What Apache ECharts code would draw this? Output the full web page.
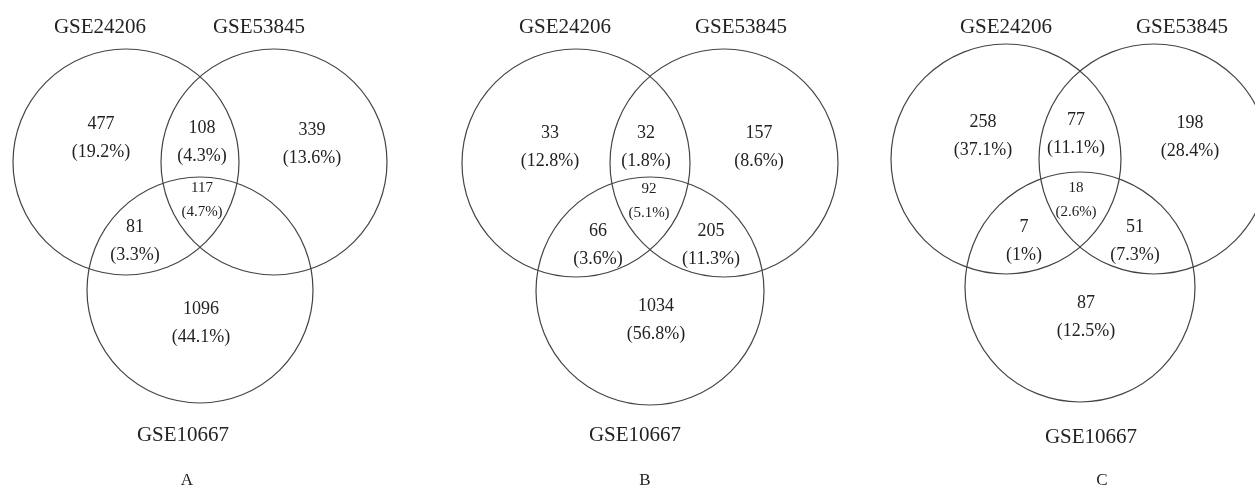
<!DOCTYPE html>
<html><head><meta charset="utf-8">
<script src="https://cdn.jsdelivr.net/npm/echarts@6/dist/echarts.min.js"></script>
<style>html,body{margin:0;padding:0;background:#fff}#c{width:1255px;height:490px}</style>
</head><body><div id="c"></div>
<script>
// ---- data ----
const setNames = ['GSE24206', 'GSE53845', 'GSE10667'];
const panelNames = ['A', 'B', 'C'];
// regions: only1, 1∩2, only2, all three, 1∩3, 2∩3, only3
const regionKeys = ['only1', 'r12', 'only2', 'r123', 'r13', 'r23', 'only3'];
const countsA = [477, 108, 339, 117, 81, null, 1096];
const pctA    = [19.2, 4.3, 13.6, 4.7, 3.3, null, 44.1];
const countsB = [33, 32, 157, 92, 66, 205, 1034];
const pctB    = [12.8, 1.8, 8.6, 5.1, 3.6, 11.3, 56.8];
const countsC = [258, 77, 198, 18, 7, 51, 87];
const pctC    = [37.1, 11.1, 28.4, 2.6, 1, 7.3, 12.5];

// ---- layout (positions in a 1255 x 490 coordinate space) ----
const circleOffsets = [[-74, 0], [74, 0], [0, 128]];
const panelLayout = [
  { anchor: [200, 162], r: 113,
    setLabels: [[100, 27], [259, 27], [183, 435]], letter: [187, 481],
    regions: [[101, 124], [202, 128], [312, 130], [202, 188], [135, 227], null, [201, 309]] },
  { anchor: [650, 163], r: 114,
    setLabels: [[565, 27], [741, 27], [635, 435]], letter: [645, 481],
    regions: [[550, 133], [646, 133], [759, 133], [649, 189], [598, 231], [711, 231], [656, 306]] },
  { anchor: [1080, 159], r: 115,
    setLabels: [[1006, 27], [1182, 27], [1091, 437]], letter: [1102, 481],
    regions: [[983, 122], [1076, 120], [1190, 123], [1076, 188], [1024, 227], [1135, 227], [1086, 303]] }
];

const counts = [countsA, countsB, countsC];
const pcts = [pctA, pctB, pctC];
const FONT = '"Liberation Serif", "Times New Roman", serif';
const TEXT_COLOR = '#222';

// circle data
const circleData = [];
panelLayout.forEach((p, pi) => {
  circleOffsets.forEach((o) => {
    circleData.push([p.anchor[0] + o[0], p.anchor[1] + o[1], p.r]);
  });
});

// text data: [x, y, text, size]
const textData = [];
panelLayout.forEach((p, pi) => {
  setNames.forEach((s, si) => {
    textData.push([p.setLabels[si][0], p.setLabels[si][1], s, 21]);
  });
  textData.push([p.letter[0], p.letter[1], panelNames[pi], 17]);
  regionKeys.forEach((k, ri) => {
    const c = counts[pi][ri];
    if (c === null || !p.regions[ri]) return;
    const small = k === 'r123';
    const size = small ? 15 : 18;
    const gap = small ? 24 : 28;
    const pos = p.regions[ri];
    textData.push([pos[0], pos[1], String(c), size]);
    textData.push([pos[0], pos[1] + gap, '(' + pcts[pi][ri] + '%)', size]);
  });
});

const chart = echarts.init(document.getElementById('c'), null, { renderer: 'canvas' });
chart.setOption({
  backgroundColor: '#fff',
  animation: false,
  grid: { left: 0, right: 0, top: 0, bottom: 0 },
  xAxis: { type: 'value', min: 0, max: 1255, show: false },
  yAxis: { type: 'value', min: 0, max: 490, inverse: true, show: false },
  series: [
    {
      type: 'custom',
      coordinateSystem: 'cartesian2d',
      data: circleData,
      silent: true,
      renderItem: function (params, api) {
        const c = api.coord([api.value(0), api.value(1)]);
        const r = api.size([api.value(2), 0])[0];
        return {
          type: 'circle',
          shape: { cx: c[0], cy: c[1], r: r },
          style: { fill: 'none', stroke: '#444', lineWidth: 1.2 }
        };
      }
    },
    {
      type: 'custom',
      coordinateSystem: 'cartesian2d',
      data: textData,
      silent: true,
      renderItem: function (params, api) {
        const d = textData[params.dataIndex];
        const c = api.coord([d[0], d[1]]);
        return {
          type: 'text',
          style: {
            x: c[0], y: c[1], text: d[2],
            font: d[3] + 'px ' + FONT,
            fill: TEXT_COLOR,
            align: 'center', verticalAlign: 'middle'
          }
        };
      }
    }
  ]
});
</script>
</body></html>
